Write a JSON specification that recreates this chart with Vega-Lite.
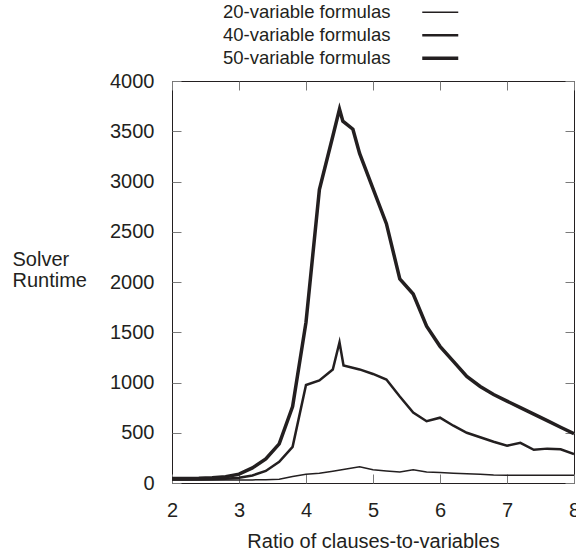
{
  "$schema": "https://vega.github.io/schema/vega-lite/v6.json",
  "width": 402,
  "height": 402,
  "autosize": {"type": "none"},
  "padding": {"left": 172, "top": 81, "right": 2, "bottom": 71},
  "background": "white",
  "config": {
    "font": "Liberation Sans",
    "view": {"stroke": "#231f20", "strokeWidth": 1},
    "axis": {
      "grid": false,
      "domain": false,
      "tickColor": "#7a7a7a",
      "tickWidth": 1,
      "tickSize": -9,
      "labelFont": "Liberation Sans",
      "labelFontSize": 20,
      "labelColor": "#231f20",
      "labelLimit": 0,
      "format": "d",
      "titleFont": "Liberation Sans",
      "titleFontSize": 20,
      "titleFontWeight": "normal",
      "titleColor": "#231f20"
    },
    "legend": {
      "labelFont": "Liberation Sans",
      "labelFontSize": 18.5,
      "labelColor": "#231f20",
      "labelLimit": 0
    }
  },
  "data": {
    "values": [
      {"x": 2.0, "y": 30, "series": "20-variable formulas"},
      {"x": 2.4, "y": 30, "series": "20-variable formulas"},
      {"x": 2.8, "y": 30, "series": "20-variable formulas"},
      {"x": 3.2, "y": 31, "series": "20-variable formulas"},
      {"x": 3.4, "y": 33, "series": "20-variable formulas"},
      {"x": 3.6, "y": 38, "series": "20-variable formulas"},
      {"x": 3.8, "y": 65, "series": "20-variable formulas"},
      {"x": 4.0, "y": 88, "series": "20-variable formulas"},
      {"x": 4.2, "y": 98, "series": "20-variable formulas"},
      {"x": 4.4, "y": 118, "series": "20-variable formulas"},
      {"x": 4.6, "y": 140, "series": "20-variable formulas"},
      {"x": 4.8, "y": 162, "series": "20-variable formulas"},
      {"x": 5.0, "y": 132, "series": "20-variable formulas"},
      {"x": 5.2, "y": 120, "series": "20-variable formulas"},
      {"x": 5.4, "y": 110, "series": "20-variable formulas"},
      {"x": 5.6, "y": 132, "series": "20-variable formulas"},
      {"x": 5.8, "y": 110, "series": "20-variable formulas"},
      {"x": 6.0, "y": 105, "series": "20-variable formulas"},
      {"x": 6.2, "y": 98, "series": "20-variable formulas"},
      {"x": 6.4, "y": 92, "series": "20-variable formulas"},
      {"x": 6.6, "y": 86, "series": "20-variable formulas"},
      {"x": 6.8, "y": 80, "series": "20-variable formulas"},
      {"x": 7.0, "y": 78, "series": "20-variable formulas"},
      {"x": 7.4, "y": 77, "series": "20-variable formulas"},
      {"x": 8.0, "y": 77, "series": "20-variable formulas"},

      {"x": 2.0, "y": 35, "series": "40-variable formulas"},
      {"x": 2.2, "y": 35, "series": "40-variable formulas"},
      {"x": 2.4, "y": 36, "series": "40-variable formulas"},
      {"x": 2.6, "y": 38, "series": "40-variable formulas"},
      {"x": 2.8, "y": 42, "series": "40-variable formulas"},
      {"x": 3.0, "y": 52, "series": "40-variable formulas"},
      {"x": 3.2, "y": 75, "series": "40-variable formulas"},
      {"x": 3.4, "y": 120, "series": "40-variable formulas"},
      {"x": 3.6, "y": 210, "series": "40-variable formulas"},
      {"x": 3.8, "y": 360, "series": "40-variable formulas"},
      {"x": 4.0, "y": 975, "series": "40-variable formulas"},
      {"x": 4.2, "y": 1020, "series": "40-variable formulas"},
      {"x": 4.4, "y": 1130, "series": "40-variable formulas"},
      {"x": 4.5, "y": 1400, "series": "40-variable formulas"},
      {"x": 4.56, "y": 1170, "series": "40-variable formulas"},
      {"x": 4.8, "y": 1130, "series": "40-variable formulas"},
      {"x": 5.0, "y": 1085, "series": "40-variable formulas"},
      {"x": 5.2, "y": 1030, "series": "40-variable formulas"},
      {"x": 5.4, "y": 860, "series": "40-variable formulas"},
      {"x": 5.6, "y": 700, "series": "40-variable formulas"},
      {"x": 5.8, "y": 615, "series": "40-variable formulas"},
      {"x": 6.0, "y": 650, "series": "40-variable formulas"},
      {"x": 6.2, "y": 570, "series": "40-variable formulas"},
      {"x": 6.4, "y": 500, "series": "40-variable formulas"},
      {"x": 6.6, "y": 455, "series": "40-variable formulas"},
      {"x": 6.8, "y": 410, "series": "40-variable formulas"},
      {"x": 7.0, "y": 370, "series": "40-variable formulas"},
      {"x": 7.2, "y": 400, "series": "40-variable formulas"},
      {"x": 7.4, "y": 330, "series": "40-variable formulas"},
      {"x": 7.6, "y": 342, "series": "40-variable formulas"},
      {"x": 7.8, "y": 335, "series": "40-variable formulas"},
      {"x": 8.0, "y": 288, "series": "40-variable formulas"},

      {"x": 2.0, "y": 45, "series": "50-variable formulas"},
      {"x": 2.2, "y": 45, "series": "50-variable formulas"},
      {"x": 2.4, "y": 47, "series": "50-variable formulas"},
      {"x": 2.6, "y": 52, "series": "50-variable formulas"},
      {"x": 2.8, "y": 62, "series": "50-variable formulas"},
      {"x": 3.0, "y": 88, "series": "50-variable formulas"},
      {"x": 3.2, "y": 150, "series": "50-variable formulas"},
      {"x": 3.4, "y": 240, "series": "50-variable formulas"},
      {"x": 3.6, "y": 390, "series": "50-variable formulas"},
      {"x": 3.8, "y": 760, "series": "50-variable formulas"},
      {"x": 4.0, "y": 1600, "series": "50-variable formulas"},
      {"x": 4.2, "y": 2920, "series": "50-variable formulas"},
      {"x": 4.4, "y": 3450, "series": "50-variable formulas"},
      {"x": 4.5, "y": 3720, "series": "50-variable formulas"},
      {"x": 4.55, "y": 3600, "series": "50-variable formulas"},
      {"x": 4.7, "y": 3520, "series": "50-variable formulas"},
      {"x": 4.8, "y": 3280, "series": "50-variable formulas"},
      {"x": 5.0, "y": 2930, "series": "50-variable formulas"},
      {"x": 5.2, "y": 2580, "series": "50-variable formulas"},
      {"x": 5.4, "y": 2030, "series": "50-variable formulas"},
      {"x": 5.6, "y": 1880, "series": "50-variable formulas"},
      {"x": 5.8, "y": 1560, "series": "50-variable formulas"},
      {"x": 6.0, "y": 1360, "series": "50-variable formulas"},
      {"x": 6.2, "y": 1210, "series": "50-variable formulas"},
      {"x": 6.4, "y": 1060, "series": "50-variable formulas"},
      {"x": 6.6, "y": 960, "series": "50-variable formulas"},
      {"x": 6.8, "y": 880, "series": "50-variable formulas"},
      {"x": 7.0, "y": 815, "series": "50-variable formulas"},
      {"x": 7.2, "y": 750, "series": "50-variable formulas"},
      {"x": 7.4, "y": 685, "series": "50-variable formulas"},
      {"x": 7.6, "y": 620, "series": "50-variable formulas"},
      {"x": 7.8, "y": 555, "series": "50-variable formulas"},
      {"x": 8.0, "y": 490, "series": "50-variable formulas"}
    ]
  },
  "layer": [
    {
      "mark": {"type": "line", "color": "#231f20", "clip": true, "strokeJoin": "miter", "strokeMiterLimit": 10},
      "encoding": {
        "x": {
          "field": "x", "type": "quantitative",
          "scale": {"domain": [2, 8], "nice": false, "zero": false},
          "axis": {"orient": "bottom", "values": [2, 3, 4, 5, 6, 7, 8], "labelPadding": 26, "title": "Ratio of clauses-to-variables", "titlePadding": 11, "labelFlush": false}
        },
        "y": {
          "field": "y", "type": "quantitative",
          "scale": {"domain": [0, 4000], "nice": false},
          "axis": {
            "orient": "left",
            "values": [0, 500, 1000, 1500, 2000, 2500, 3000, 3500, 4000],
            "labelPadding": 27,
            "title": ["Solver", "Runtime"],
            "titleAngle": 0,
            "titleAlign": "left",
            "titleBaseline": "middle",
            "titleX": -160,
            "titleY": 178,
            "titleLineHeight": 21.5,
            "labelFlush": false
          }
        },
        "strokeWidth": {
          "field": "series", "type": "ordinal",
          "scale": {"domain": ["20-variable formulas", "40-variable formulas", "50-variable formulas"], "range": [1.5, 3.5, 6.5]},
          "legend": {
            "title": null,
            "orient": "none",
            "legendX": 259,
            "legendY": -78,
            "symbolType": "M-3.6,0H3.6",
            "symbolSize": 100,
            "symbolStrokeColor": "#231f20",
            "symbolFillColor": "transparent",
            "labelAlign": "right",
            "labelOffset": -59,
            "rowPadding": 4,
            "padding": 0
          }
        }
      }
    },
    {
      "mark": {"type": "line", "opacity": 0},
      "encoding": {
        "x": {
          "field": "x", "type": "quantitative",
          "axis": {"orient": "top", "values": [2, 3, 4, 5, 6, 7, 8], "labels": false, "title": null}
        },
        "y": {
          "field": "y", "type": "quantitative",
          "axis": {"orient": "right", "values": [0, 500, 1000, 1500, 2000, 2500, 3000, 3500, 4000], "labels": false, "title": null}
        },
        "detail": {"field": "series"}
      }
    }
  ],
  "resolve": {"axis": {"x": "independent", "y": "independent"}}
}
